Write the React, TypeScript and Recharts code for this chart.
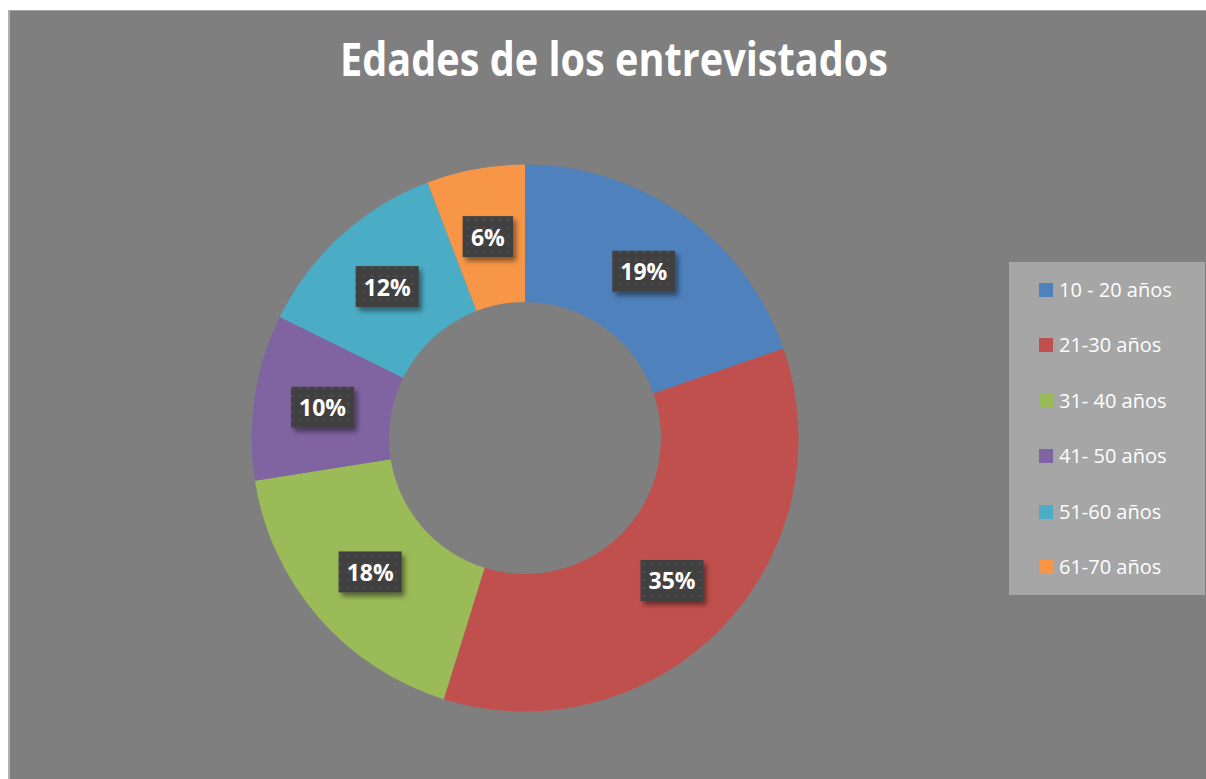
import React from 'react';
import { PieChart, Pie, Cell, Legend } from 'recharts';

const title = 'Edades de los entrevistados';
const categories = ['10 - 20 años', '21-30 años', '31- 40 años', '41- 50 años', '51-60 años', '61-70 años'];
const shares = [19.7, 35.1, 17.7, 9.8, 11.9, 5.8];
const percentLabels = ['19%', '35%', '18%', '10%', '12%', '6%'];
const colors = ['#4F81BD', '#C0504D', '#9BBB59', '#8064A2', '#4BACC6', '#F79646'];

const data = categories.map((name, i) => ({ name, value: shares[i], label: percentLabels[i] }));

const RAD = Math.PI / 180;

const charW = (c: string) => (c === '%' ? 18.9 : 12.6);

const renderLabel = (props: any) => {
  const { cx, cy, midAngle, innerRadius, outerRadius, index } = props;
  const r = (innerRadius + outerRadius) / 2;
  const x = cx + r * Math.cos(-midAngle * RAD);
  const y = cy + r * Math.sin(-midAngle * RAD);
  const text = percentLabels[index];
  const tw = text.split('').reduce((s: number, c: string) => s + charW(c), 0);
  const w = tw + 19;
  const h = 41;
  return (
    <g key={`lbl-${index}`}>
      {index === 0 && (
        <defs>
          <pattern id="lblDots" width="8" height="8" patternUnits="userSpaceOnUse">
            <rect width="8" height="8" fill="#404040" />
            <circle cx="4" cy="4" r="1.6" fill="#4b4b4b" />
          </pattern>
          <filter id="lblShadow" x="-30%" y="-30%" width="170%" height="180%">
            <feDropShadow dx="3" dy="4" stdDeviation="2.5" floodColor="#000" floodOpacity="0.45" />
          </filter>
        </defs>
      )}
      <rect x={x - w / 2} y={y - h / 2} width={w} height={h} fill="url(#lblDots)" filter="url(#lblShadow)" />
      <text
        x={x}
        y={y + 9}
        textAnchor="middle"
        fill="#ffffff"
        style={{ fontFamily: '"Open Sans", sans-serif', fontWeight: 700, fontSize: 23 }}
      >
        {text}
      </text>
    </g>
  );
};

const LegendContent = (props: any) => {
  const payload = props.payload || [];
  return (
    <div style={{ position: 'relative', width: 196, height: 333, background: '#a6a6a6' }}>
      {payload.map((p: any, i: number) => (
        <div
          key={i}
          style={{
            position: 'absolute',
            left: 30,
            top: 28 + 55.4 * i - 14,
            height: 28,
            display: 'flex',
            alignItems: 'center',
            whiteSpace: 'nowrap',
          }}
        >
          <span style={{ display: 'inline-block', width: 14, height: 14, background: p.color, marginRight: 6 }} />
          <span style={{ fontFamily: '"Open Sans", sans-serif', fontSize: 20, color: '#ffffff', lineHeight: '28px' }}>
            {p.value}
          </span>
        </div>
      ))}
    </div>
  );
};

export default function App() {
  return (
    <div style={{ position: 'fixed', left: 0, top: 0, width: 1206, height: 779, overflow: 'hidden', background: '#ffffff' }}>
      <div
        style={{
          position: 'absolute',
          left: 8,
          top: 10,
          width: 1210,
          height: 780,
          background: '#7f7f7f',
          borderLeft: '2px solid #b0b0b0',
          borderTop: '1px solid #a8a8a8',
        }}
      />
      <svg width={1206} height={779} style={{ position: 'absolute', left: 0, top: 0 }}>
        <text
          x={340}
          y={76}
          textLength={548}
          lengthAdjust="spacingAndGlyphs"
          fill="#ffffff"
          style={{ fontFamily: '"Open Sans", sans-serif', fontWeight: 700, fontSize: 46 }}
        >
          {title}
        </text>
      </svg>
      <div style={{ position: 'absolute', left: 0, top: 0 }}>
        <PieChart width={1206} height={779} margin={{ top: 0, right: 0, bottom: 0, left: 0 }}>
          <Pie
            data={data}
            dataKey="value"
            nameKey="name"
            cx={525}
            cy={438}
            innerRadius={136}
            outerRadius={273.5}
            startAngle={90}
            endAngle={-270}
            stroke="none"
            labelLine={false}
            label={renderLabel}
            isAnimationActive={false}
          >
            {data.map((d, i) => (
              <Cell key={d.name} fill={colors[i]} />
            ))}
          </Pie>
          <Legend
            content={<LegendContent />}
            wrapperStyle={{ position: 'absolute', left: 1009, top: 262, width: 196, height: 333 }}
          />
        </PieChart>
      </div>
    </div>
  );
}
